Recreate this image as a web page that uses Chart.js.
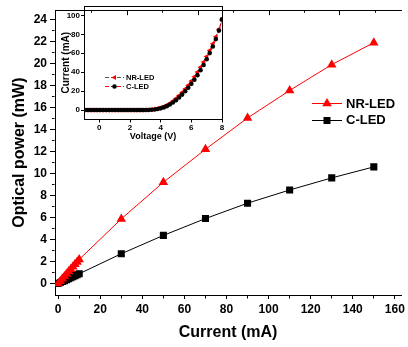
<!DOCTYPE html>
<html>
<head>
<meta charset="utf-8">
<script src="https://cdn.jsdelivr.net/npm/chart.js@4.4.1/dist/chart.umd.min.js"></script>
<style>
  html, body { margin: 0; padding: 0; background: #fff; }
  #wrap { position: relative; width: 408px; height: 347px; }
  #mainChart { position: absolute; left: 0; top: 0; }
  #insetChart { position: absolute; left: 56px; top: 0; }
</style>
</head>
<body>
<div id="wrap">
  <canvas id="mainChart" width="408" height="347"></canvas>
  <canvas id="insetChart" width="170" height="145"></canvas>
</div>
<script>
const FONT = "Arial, 'Liberation Sans', sans-serif";
Chart.defaults.font.family = FONT;
Chart.defaults.color = '#000';

// main plot: optical power vs current
const currentMA = [0, 1, 2, 3, 4, 5, 6, 7, 8, 9, 10, 30, 50, 70, 90, 110, 130, 150];
const nrPower = [0, 0.21, 0.42, 0.64, 0.86, 1.08, 1.3, 1.52, 1.74, 1.96, 2.18, 5.87, 9.2, 12.2, 15.05, 17.55, 19.9, 21.9];
const cPower = [0, 0.08, 0.17, 0.26, 0.35, 0.44, 0.53, 0.62, 0.71, 0.8, 0.88, 2.7, 4.37, 5.9, 7.3, 8.5, 9.6, 10.6];

const xTicksMain = [0, 20, 40, 60, 80, 100, 120, 140, 160];
const xMinorMain = [10, 30, 50, 70, 90, 110, 130, 150];
const yTicksMain = [0, 2, 4, 6, 8, 10, 12, 14, 16, 18, 20, 22, 24];
const yMinorMain = [1, 3, 5, 7, 9, 11, 13, 15, 17, 19, 21, 23];
const topTicks = [2, 4, 6, 8];
const topMinor = [1, 3, 5, 7, 9];

// inset: I-V curves
const voltage = [-1.0, -0.8, -0.6, -0.4, -0.2, 0.0, 0.2, 0.4, 0.6, 0.8, 1.0, 1.2, 1.4, 1.6, 1.8, 2.0, 2.2, 2.4, 2.6, 2.8,
  3.0, 3.2, 3.4, 3.6, 3.8, 4.0, 4.2, 4.4, 4.6, 4.8, 5.0, 5.2, 5.4, 5.6, 5.8, 6.0, 6.2, 6.4, 6.6, 6.8, 7.0, 7.2, 7.4, 7.6, 7.8, 8.0];
const nrCurrent = [0, 0, 0, 0, 0, 0, 0, 0, 0, 0, 0, 0, 0, 0, 0, 0, 0, 0, 0, 0,
  0.1, 0.3, 0.6, 1.1, 1.7, 2.5, 3.6, 5.2, 7.1, 9.5, 12.3, 15.3, 18.6, 22.3, 26.3, 30.6, 35.2, 40.1, 45.3, 50.8, 56.6, 63, 70, 77.5, 85.5, 94.5];
const cCurrent = [0, 0, 0, 0, 0, 0, 0, 0, 0, 0, 0, 0, 0, 0, 0, 0, 0, 0, 0, 0,
  0, 0.1, 0.3, 0.6, 1.1, 1.8, 2.8, 4.1, 5.8, 7.9, 10.4, 13.2, 16.3, 19.8, 23.6, 27.7, 32.1, 36.9, 42.1, 47.7, 53.7, 60.2, 67.2, 75, 84, 96];
const xTicksInset = [0, 2, 4, 6, 8];
const yTicksInset = [0, 20, 40, 60, 80, 100];

function pts(xs, ys) {
  return xs.map((x, i) => ({ x: x, y: ys[i] }));
}

function setTicks(major, minor) {
  return function (scale) {
    scale.ticks = major.concat(minor || []).sort((a, b) => a - b).map(v => ({ value: v }));
  };
}

function tri(ctx, x, y, r) {
  ctx.beginPath();
  ctx.moveTo(x, y - r);
  ctx.lineTo(x + r * 0.866, y + r / 2);
  ctx.lineTo(x - r * 0.866, y + r / 2);
  ctx.closePath();
  ctx.fill();
}
function triLeft(ctx, x, y, r) {
  ctx.beginPath();
  ctx.moveTo(x - r, y);
  ctx.lineTo(x + r / 2, y - r * 0.866);
  ctx.lineTo(x + r / 2, y + r * 0.866);
  ctx.closePath();
  ctx.fill();
}

// legend drawn inside the main plot
const mainLegend = {
  id: 'mainLegend',
  afterDraw(chart) {
    const ctx = chart.ctx;
    ctx.save();
    ctx.lineWidth = 1;
    ctx.strokeStyle = '#ff0000';
    ctx.beginPath(); ctx.moveTo(312, 103.5); ctx.lineTo(342, 103.5); ctx.stroke();
    ctx.fillStyle = '#ff0000';
    tri(ctx, 327, 103.5, 5.5);
    ctx.strokeStyle = '#000';
    ctx.beginPath(); ctx.moveTo(312, 120.5); ctx.lineTo(342, 120.5); ctx.stroke();
    ctx.fillStyle = '#000';
    ctx.fillRect(323.5, 117, 7, 7);
    ctx.font = 'bold 13px ' + FONT;
    ctx.textBaseline = 'middle';
    ctx.fillText('NR-LED', 346, 104);
    ctx.fillText('C-LED', 346, 120.5);
    ctx.restore();
  }
};

const insetLegend = {
  id: 'insetLegend',
  afterDraw(chart) {
    const ctx = chart.ctx;
    ctx.save();
    ctx.lineWidth = 1;
    ctx.setLineDash([4, 2]);
    ctx.strokeStyle = '#555';
    ctx.beginPath(); ctx.moveTo(49, 77.5); ctx.lineTo(68, 77.5); ctx.stroke();
    ctx.strokeStyle = '#ff0000';
    ctx.beginPath(); ctx.moveTo(49, 86.5); ctx.lineTo(68, 86.5); ctx.stroke();
    ctx.setLineDash([]);
    ctx.fillStyle = '#ff0000';
    triLeft(ctx, 58.5, 77.5, 3);
    ctx.fillStyle = '#000';
    ctx.beginPath(); ctx.arc(58.5, 86.5, 2.3, 0, Math.PI * 2); ctx.fill();
    ctx.font = 'bold 7.5px ' + FONT;
    ctx.textBaseline = 'middle';
    ctx.fillText('NR-LED', 70, 77.5);
    ctx.fillText('C-LED', 70, 86.5);
    ctx.restore();
  }
};

new Chart(document.getElementById('mainChart'), {
  type: 'scatter',
  data: {
    datasets: [{
      label: 'NR-LED',
      data: pts(currentMA, nrPower),
      showLine: true,
      borderColor: '#ff0000',
      backgroundColor: '#ff0000',
      borderWidth: 1,
      pointStyle: 'triangle',
      pointRadius: 5.5,
      pointBorderWidth: 0
    }, {
      label: 'C-LED',
      data: pts(currentMA, cPower),
      showLine: true,
      borderColor: '#000',
      backgroundColor: '#000',
      borderWidth: 1,
      pointStyle: 'rect',
      pointRadius: 5,
      pointBorderWidth: 0
    }]
  },
  options: {
    responsive: false,
    animation: false,
    devicePixelRatio: 1,
    layout: { padding: { top: 3, right: 0, bottom: 0, left: 0 } },
    plugins: { legend: { display: false }, tooltip: { enabled: false } },
    scales: {
      x: {
        type: 'linear',
        position: 'bottom',
        min: -1.5,
        max: 163,
        afterBuildTicks: setTicks(xTicksMain, xMinorMain),
        afterFit(s) { s.height = 52; },
        grid: {
          display: true,
          drawOnChartArea: false,
          tickLength: 4,
          color: '#000',
          tickBorderDash: c => xMinorMain.includes(c.tick.value) ? [2.5, 20] : []
        },
        border: { color: '#000', width: 1 },
        ticks: {
          autoSkip: false,
          maxRotation: 0,
          padding: 3,
          font: { size: 12, weight: 'bold' },
          callback: v => xTicksMain.includes(v) ? v : ''
        },
        title: {
          display: true,
          text: 'Current (mA)',
          font: { size: 16, weight: 'bold' },
          padding: { top: 0, bottom: 4.4 }
        }
      },
      y: {
        type: 'linear',
        position: 'left',
        min: -1.05,
        max: 24.85,
        afterBuildTicks: setTicks(yTicksMain, yMinorMain),
        afterFit(s) { s.width = 55; },
        grid: {
          display: true,
          drawOnChartArea: false,
          tickLength: 5,
          color: '#000',
          tickBorderDash: c => yMinorMain.includes(c.tick.value) ? [0, 2, 2.5, 20] : []
        },
        border: { color: '#000', width: 1 },
        ticks: {
          autoSkip: false,
          padding: 3,
          font: { size: 12, weight: 'bold' },
          callback: v => yTicksMain.includes(v) ? v : ''
        },
        title: {
          display: true,
          text: 'Optical power (mW)',
          font: { size: 16, weight: 'bold' },
          padding: { top: 10.4, bottom: 0 }
        }
      },
      x2: {
        type: 'linear',
        position: 'top',
        min: -0.04,
        max: 9.73,
        afterBuildTicks: setTicks(topTicks, topMinor),
        afterFit(s) { s.height = 0; },
        grid: {
          display: true,
          drawOnChartArea: false,
          tickLength: -5,
          color: '#000',
          tickBorderDash: c => topMinor.includes(c.tick.value) ? [0, 2.5, 3, 20] : []
        },
        border: { color: '#000', width: 1 },
        ticks: { display: false }
      }
    }
  },
  plugins: [mainLegend]
});

new Chart(document.getElementById('insetChart'), {
  type: 'scatter',
  data: {
    datasets: [{
      label: 'C-LED',
      data: pts(voltage, cCurrent),
      showLine: true,
      borderColor: '#ff0000',
      borderDash: [4, 2],
      borderWidth: 1,
      backgroundColor: '#000',
      pointStyle: 'circle',
      pointRadius: 2.3,
      pointBorderWidth: 0,
      order: 1
    }, {
      label: 'NR-LED',
      data: pts(voltage, nrCurrent),
      showLine: true,
      borderColor: '#555',
      borderDash: [4, 2],
      borderWidth: 1,
      backgroundColor: '#ff0000',
      pointStyle: 'triangle',
      rotation: -90,
      pointRadius: 3,
      pointBorderWidth: 0,
      order: 2
    }]
  },
  options: {
    responsive: false,
    animation: false,
    devicePixelRatio: 1,
    layout: { padding: { top: 6, right: 2, bottom: 0, left: 0 } },
    plugins: { legend: { display: false }, tooltip: { enabled: false } },
    scales: {
      x: {
        type: 'linear',
        position: 'bottom',
        min: -1,
        max: 8,
        afterBuildTicks: setTicks(xTicksInset),
        afterFit(s) { s.height = 25.5; },
        grid: { display: true, drawOnChartArea: false, tickLength: 3, color: '#000' },
        border: { color: '#000', width: 1 },
        ticks: { autoSkip: false, maxRotation: 0, padding: 0, font: { size: 8, weight: 'bold' } },
        title: {
          display: true,
          text: 'Voltage (V)',
          font: { size: 9, weight: 'bold' },
          padding: { top: 0, bottom: 3 }
        }
      },
      y: {
        type: 'linear',
        position: 'left',
        min: -10,
        max: 110,
        afterBuildTicks: setTicks(yTicksInset),
        afterFit(s) { s.width = 28; },
        grid: { display: true, drawOnChartArea: false, tickLength: 3, color: '#000' },
        border: { color: '#000', width: 1 },
        ticks: { autoSkip: false, padding: 1, font: { size: 8, weight: 'bold' } },
        title: {
          display: true,
          text: 'Current (mA)',
          font: { size: 10, weight: 'bold' },
          padding: { top: 4, bottom: 0 }
        }
      },
      x2: {
        type: 'linear',
        position: 'top',
        min: -1,
        max: 8,
        afterFit(s) { s.height = 0; },
        grid: { display: false },
        border: { color: '#000', width: 1 },
        ticks: { display: false }
      },
      y2: {
        type: 'linear',
        position: 'right',
        min: -10,
        max: 110,
        afterFit(s) { s.width = 0; },
        grid: { display: false },
        border: { color: '#000', width: 1 },
        ticks: { display: false }
      }
    }
  },
  plugins: [insetLegend]
});
</script>
</body>
</html>
